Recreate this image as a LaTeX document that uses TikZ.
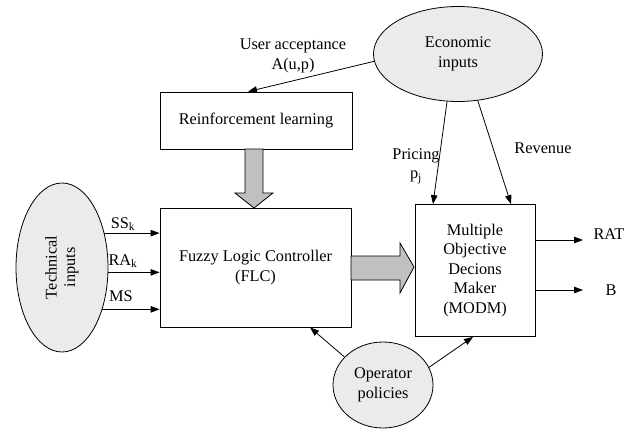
\documentclass[tikz,border=0pt]{standalone}
\usepackage{fontspec}
\setmainfont{Liberation Serif}
\usepackage{graphicx}
\usetikzlibrary{arrows.meta,shapes.geometric,calc}
\definecolor{ellfill}{HTML}{EBEBEB}
\definecolor{blockfill}{HTML}{C0C0C0}
\begin{document}
\begin{tikzpicture}[x=1pt,y=-1pt,
  every node/.style={font=\fontsize{16.3}{19.5}\selectfont},
  boxnode/.style={draw,line width=0.8pt,align=center,inner sep=0pt},
  ellnode/.style={draw,line width=0.8pt,ellipse,fill=ellfill,align=center,inner sep=0pt},
  lbl/.style={inner sep=0pt,align=center},
  arr/.style={line width=0.8pt,-{Triangle[length=9pt,width=6.5pt]}},
  blockarrow/.style={draw,line width=0.8pt,fill=blockfill}]
\useasboundingbox (0,0) rectangle (639,428);

% boxes
\node[boxnode,minimum width=192,minimum height=57] (rl) at (256,120.5) {Reinforcement learning};
\node[boxnode,minimum width=191,minimum height=119] (flc) at (255.5,267.5) {Fuzzy Logic Controller\\(FLC)};
\node[boxnode,minimum width=120,minimum height=132] (modm) at (475,270.5) {Multiple\\Objective\\Decions\\Maker\\(MODM)};

% ellipses
\node[ellnode,minimum width=169,minimum height=95] (econ) at (458,54) {Economic\\inputs};
\node[ellnode,minimum width=92,minimum height=169] (tech) at (62,267.5) {\rotatebox{90}{\begin{tabular}{@{}c@{}}Technical\\[-1pt]inputs\end{tabular}}};
\node[ellnode,minimum width=100,minimum height=86] (oper) at (383,385) {Operator\\policies};

% labels
\node[lbl] (ua) at (293,56) {User acceptance\\A(u,p)};
\node[lbl] (pricing) at (416,166) {Pricing\\p\textsubscript{j}};
\node[lbl] (revenue) at (543,148) {Revenue};
\node[lbl] (ss) at (123,224) {SS\textsubscript{k}};
\node[lbl] (ra) at (123,261) {RA\textsubscript{k}};
\node[lbl] (ms) at (121,296) {MS};
\node[lbl] (rat) at (609,234) {RAT};
\node[lbl] (b) at (611,290) {B};

% block arrows
\draw[blockarrow] (245,149) -- (263,149) -- (263,193) -- (273,193) -- (254,208) -- (235,193) -- (245,193) -- cycle;
\draw[blockarrow] (351,256) -- (400,256) -- (400,243) -- (414,267) -- (400,293) -- (400,280) -- (351,280) -- cycle;

% connectors
\draw[arr] (econ.185) -- ([xshift=-8pt]rl.north);
\draw[arr] (econ.-103) -- ([xshift=-42pt]modm.north);
\draw[arr] (econ.-67.4) -- ([xshift=36pt]modm.north);

\draw[arr] (tech.39.4) -- (tech.39.4 -| flc.west);
\draw[arr] (tech.-6.8) -- (tech.-6.8 -| flc.west);
\draw[arr] (tech.-46.9) -- (tech.-46.9 -| flc.west);

\draw[arr] (oper.144.6) -- ([xshift=54.5pt]flc.south);
\draw[arr] (oper.21) -- ([xshift=-2pt]modm.south);

\coordinate (ratend) at (583,240);
\coordinate (bend) at (583,290);
\draw[arr] (modm.east |- ratend) -- (ratend);
\draw[arr] (modm.east |- bend) -- (bend);
\end{tikzpicture}
\end{document}
